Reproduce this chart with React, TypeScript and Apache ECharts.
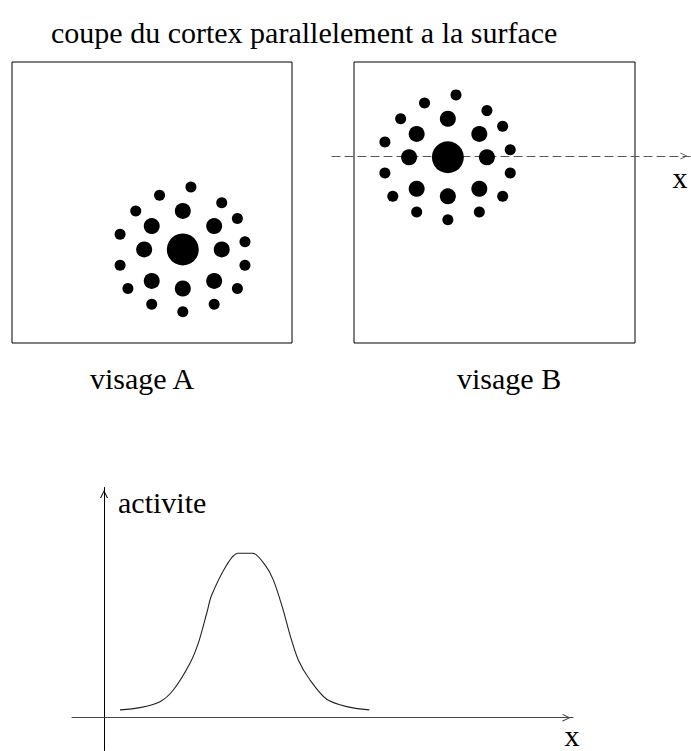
import React, { useEffect, useRef } from "react";
import * as echarts from "echarts";

// ---------- texts ----------
const TITLE = "coupe du cortex parallelement a la surface";
const FACE_LABELS = ["visage A", "visage B"];
const AXIS_X_LABEL = "x";
const AXIS_Y_LABEL = "activite";

// ---------- activation patterns (box units, 0..100, y up) ----------
// centre of the activity pattern for each face
const FACE_CENTERS: [number, number][] = [
  [61.0, 33.3], // visage A
  [33.4, 66.1], // visage B
];
// inner ring (medium spots), offsets from the centre
const INNER_DX = [0, -11.1, 11.2, -13.8, 13.9, -11.1, 11.2, 0];
const INNER_DY = [13.7, 8.3, 8.3, 0, 0, -11.2, -11.2, -13.9];
// outer ring (small spots), offsets from the centre
const OUTER_DX = [2.9, -8.3, 13.9, -16.8, 19.5, -22.4, 22.2, -22.4, 22.2, -19.6, 19.5, -11.1, 11.2, 0];
const OUTER_DY = [22.2, 19.3, 16.6, 13.7, 11.0, 5.4, 2.7, -5.6, -5.6, -13.9, -13.9, -19.5, -19.5, -22.2];

// ---------- activity profile along x ----------
const CURVE_X = [1.6, 3.6, 5.6, 6.93, 8.6, 9.43, 10.27, 10.77, 12.27, 13.37, 14.87, 16.1, 16.93, 17.87, 18.6, 19.43, 20.6, 22.27, 24.27, 26.53];
const CURVE_Y = [0.047, 0.061, 0.097, 0.168, 0.331, 0.453, 0.635, 0.746, 0.929, 1.0, 1.0, 0.929, 0.838, 0.665, 0.503, 0.351, 0.229, 0.112, 0.067, 0.047];

const FONT = '"Liberation Serif", "Times New Roman", Times, serif';
const CHEVRON = "path://M0,10 L5,0 L10,10 L8.6,10 L5,2.6 L1.4,10 Z";

function ring(center: [number, number], dx: number[], dy: number[]) {
  return dx.map((d, i) => [center[0] + d, center[1] + dy[i]]);
}

export default function App() {
  const ref = useRef<HTMLDivElement>(null);

  useEffect(() => {
    document.body.style.margin = "0";
    const chart = echarts.init(ref.current!, null, { renderer: "svg" });

    const hiddenAxis = (gridIndex: number) => ({
      type: "value" as const,
      gridIndex,
      min: 0,
      max: 100,
      show: false,
    });

    const dotStyle = { color: "#000", opacity: 1 };
    const faceSeries: any[] = [];
    FACE_CENTERS.forEach((c, i) => {
      faceSeries.push(
        {
          type: "scatter",
          name: FACE_LABELS[i] + " centre",
          xAxisIndex: i,
          yAxisIndex: i,
          symbolSize: 32,
          itemStyle: dotStyle,
          data: [[c[0], c[1]]],
        },
        {
          type: "scatter",
          name: FACE_LABELS[i] + " anneau interne",
          xAxisIndex: i,
          yAxisIndex: i,
          symbolSize: 16,
          itemStyle: dotStyle,
          data: ring(c, INNER_DX, INNER_DY),
        },
        {
          type: "scatter",
          name: FACE_LABELS[i] + " anneau externe",
          xAxisIndex: i,
          yAxisIndex: i,
          symbolSize: 11,
          itemStyle: dotStyle,
          data: ring(c, OUTER_DX, OUTER_DY),
        }
      );
    });

    const textStyle = (extra: any) => ({
      fill: "#000",
      fontFamily: FONT,
      fontSize: 30,
      verticalAlign: "middle",
      ...extra,
    });

    chart.setOption({
      animation: false,
      backgroundColor: "#fff",
      grid: [
        { left: 12, top: 62, width: 280, height: 281, show: true, borderColor: "#000", borderWidth: 1, backgroundColor: "transparent" },
        { left: 354, top: 62, width: 281, height: 281, show: true, borderColor: "#000", borderWidth: 1, backgroundColor: "transparent" },
        { left: 72, top: 487.5, width: 501, height: 263 },
        { left: 332, top: 156, width: 358, height: 10 },
      ],
      xAxis: [
        hiddenAxis(0),
        hiddenAxis(1),
        {
          type: "value",
          gridIndex: 2,
          min: -3.2,
          max: 46.9,
          axisLine: {
            show: true,
            onZero: true,
            lineStyle: { color: "#444", width: 1 },
            symbol: ["none", CHEVRON],
            symbolSize: [8, 13],
            symbolOffset: [0, -6.5],
          },
          axisTick: { show: false },
          axisLabel: { show: false },
          splitLine: { show: false },
        },
        {
          type: "value",
          gridIndex: 3,
          min: 0,
          max: 1,
          position: "top",
          axisLine: {
            show: true,
            onZero: false,
            lineStyle: { color: "#555", width: 1.1, type: [8, 5] },
            symbol: ["none", CHEVRON],
            symbolSize: [7, 12],
            symbolOffset: [0, -6],
          },
          axisTick: { show: false },
          axisLabel: { show: false },
          splitLine: { show: false },
        },
      ],
      yAxis: [
        hiddenAxis(0),
        hiddenAxis(1),
        {
          type: "value",
          gridIndex: 2,
          min: -0.2,
          max: 1.4,
          axisLine: {
            show: true,
            onZero: true,
            lineStyle: { color: "#000", width: 1 },
            symbol: ["none", CHEVRON],
            symbolSize: [8, 13],
            symbolOffset: [0, -6.5],
          },
          axisTick: { show: false },
          axisLabel: { show: false },
          splitLine: { show: false },
        },
        { ...hiddenAxis(3) },
      ],
      series: [
        ...faceSeries,
        {
          type: "line",
          name: AXIS_Y_LABEL,
          xAxisIndex: 2,
          yAxisIndex: 2,
          showSymbol: false,
          smooth: 0.3,
          lineStyle: { color: "#222", width: 1.1 },
          data: CURVE_X.map((x, i) => [x, CURVE_Y[i]]),
        },
      ],
      graphic: [
        { type: "text", x: 51, y: 32, style: textStyle({ text: TITLE }) },
        { type: "text", x: 90, y: 378, style: textStyle({ text: FACE_LABELS[0] }) },
        { type: "text", x: 457, y: 378, style: textStyle({ text: FACE_LABELS[1] }) },
        { type: "text", x: 680, y: 177, style: textStyle({ text: AXIS_X_LABEL, align: "center" }) },
        { type: "text", x: 572, y: 735, style: textStyle({ text: AXIS_X_LABEL, align: "center" }) },
        { type: "text", x: 118, y: 502, style: textStyle({ text: AXIS_Y_LABEL }) },
      ],
    });

    return () => chart.dispose();
  }, []);

  return (
    <div
      ref={ref}
      style={{ position: "absolute", left: 0, top: 0, width: 691, height: 751 }}
    />
  );
}
